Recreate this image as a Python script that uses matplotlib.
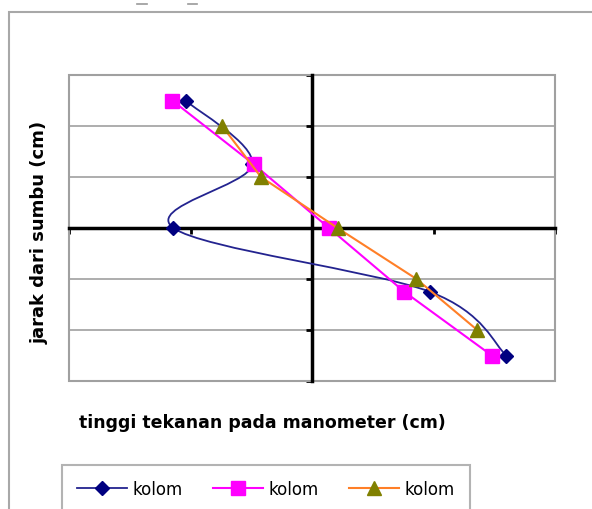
import numpy as np
import matplotlib.pyplot as plt
from matplotlib.path import Path
from matplotlib.patches import PathPatch, Rectangle
from matplotlib.lines import Line2D

# jarak dari sumbu (cm) untuk tiap seri
jarak_1 = [2.5, 1.25, 0.0, -1.25, -2.5]
jarak_2 = [2.5, 1.25, 0.0, -1.25, -2.5]
jarak_3 = [2.0, 1.0, 0.0, -1.0, -2.0]

# tinggi tekanan pada manometer (cm)
tekanan_1 = [-1.04, -0.49, -1.14, 0.97, 1.60]
tekanan_2 = [-1.15, -0.48, 0.14, 0.76, 1.48]
tekanan_3 = [-0.74, -0.42, 0.21, 0.86, 1.36]

label_seri = ['kolom', 'kolom', 'kolom']
x_ticks = [-2, -1, 0, 1, 2]
y_ticks = [-3, -2, -1, 0, 1, 2, 3]

font_x = {'family': 'DejaVu Sans', 'size': 12.5, 'weight': 'bold'}
font_y = {'family': 'DejaVu Sans', 'size': 13, 'weight': 'bold'}


def smooth_path(x, y):
    # kurva halus ala excel (bezier, catmull-rom)
    p = np.column_stack([x, y])
    verts = [p[0]]
    codes = [Path.MOVETO]
    n = len(p)
    for i in range(n - 1):
        p0 = p[i - 1] if i > 0 else p[i]
        p1 = p[i]
        p2 = p[i + 1]
        p3 = p[i + 2] if i + 2 < n else p[i + 1]
        verts += [p1 + (p2 - p0) / 6.0, p2 - (p3 - p1) / 6.0, p2]
        codes += [Path.CURVE4] * 3
    return Path(verts, codes)


fig = plt.figure(figsize=(5.92, 5.10), dpi=100)
ax = fig.add_axes([69 / 592, 1 - 382 / 510, 486 / 592, 306 / 510])

navy = '#000080'
garis_navy = '#23238f'
ax.add_patch(PathPatch(smooth_path(tekanan_1, jarak_1), facecolor='none',
                       edgecolor=garis_navy, lw=1.3, zorder=3))
ax.plot(tekanan_1, jarak_1, ls='none', marker='D', ms=7, color=navy, zorder=4)
ax.plot(tekanan_2, jarak_2, color='#ff00ff', lw=1.5, marker='s', ms=10.5,
        zorder=5)
ax.plot(tekanan_3, jarak_3, color='#ff7f27', lw=1.5, marker='^', ms=10,
        mfc='#808000', mec='#808000', zorder=6)

ax.set_xlim(-2, 2)
ax.set_ylim(-3, 3)
ax.set_xticks(x_ticks)
ax.set_yticks(y_ticks)
ax.set_xticklabels([])
ax.set_yticklabels([])
ax.grid(axis='y', color='#a0a0a0', lw=1.2)
ax.set_axisbelow(True)

for s in ['top', 'right']:
    ax.spines[s].set_visible(False)
for s in ['left', 'bottom']:
    ax.spines[s].set_position(('data', 0))
    ax.spines[s].set_linewidth(2.5)
    ax.spines[s].set_zorder(2.5)
ax.tick_params(axis='both', direction='out', length=4, width=2, color='black')
ax.add_patch(Rectangle((0, 0), 1, 1, transform=ax.transAxes, fill=False,
                       edgecolor='#a0a0a0', lw=1.5, zorder=1, clip_on=False))

fig.text(40 / 592, 1 - 232 / 510, 'jarak dari sumbu (cm)', fontdict=font_y,
         rotation=90, ha='center', va='center')
fig.text(262 / 592, 1 - 423 / 510, 'tinggi tekanan pada manometer (cm)',
         fontdict=font_x, ha='center', va='center')

# bingkai luar chart
fig.add_artist(Rectangle((9 / 592, -0.1), 1.0, 1 - 13 / 510 + 0.1,
                         transform=fig.transFigure, fill=False,
                         edgecolor='#a8a8a8', lw=1.5))
fig.add_artist(Line2D([137 / 592, 147 / 592], [1 - 5 / 510] * 2, color='#999999', lw=1.2))
fig.add_artist(Line2D([188 / 592, 197 / 592], [1 - 5 / 510] * 2, color='#999999', lw=1.2))

handles = [
    Line2D([], [], color=garis_navy, lw=1.3, marker='D', ms=7, mfc=navy, mec=navy),
    Line2D([], [], color='#ff00ff', lw=1.5, marker='s', ms=10.5),
    Line2D([], [], color='#ff7f27', lw=1.5, marker='^', ms=10, mfc='#808000', mec='#808000'),
]
leg = fig.legend(handles, label_seri, loc='upper left', ncol=3,
                 bbox_to_anchor=(62 / 592, 1 - 466 / 510),
                 prop={'family': 'DejaVu Sans', 'size': 12},
                 frameon=True, fancybox=False, edgecolor='#a0a0a0',
                 handlelength=3.0, handletextpad=0.35, columnspacing=1.8,
                 borderpad=0.9, borderaxespad=0)
leg.get_frame().set_linewidth(1.5)

fig.savefig('out.png', dpi=100)
